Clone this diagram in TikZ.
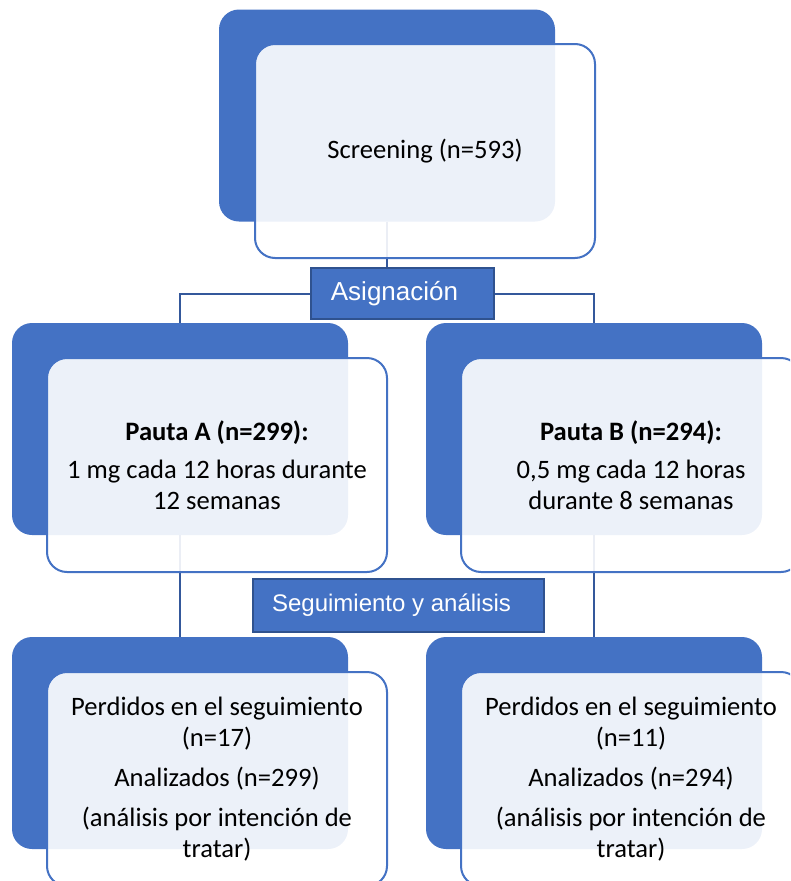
\documentclass[tikz,border=0pt]{standalone}
\usepackage{fontspec}
\setmainfont{Carlito}
\newfontfamily\tagfont{Liberation Sans}
\usepackage{tikz}
\usetikzlibrary{positioning}
\definecolor{smblue}{RGB}{68,114,196}
\definecolor{smdark}{RGB}{47,82,143}
\definecolor{smline}{RGB}{52,88,155}
\newcommand{\boxfont}{\fontsize{26.6}{31}\selectfont}

\begin{document}
\begin{tikzpicture}[x=1pt,y=-1pt,
  backbox/.style={fill=smblue,rounded corners=20pt,minimum width=336pt,minimum height=212pt,inner sep=0pt},
  frontbox/.style={draw=smblue,line width=2pt,fill=white,fill opacity=0.9,text opacity=1,rounded corners=20pt,minimum width=340pt,minimum height=214pt,inner sep=0pt,align=center,font=\boxfont},
  tagbox/.style={fill=smblue,draw=smdark,line width=2pt,inner sep=0pt},
  tagtext/.style={text=white,inner sep=0pt},
  link/.style={draw=smline,line width=2pt}]
\useasboundingbox (0,0) rectangle (790,881);
\clip (0,0) rectangle (790,881);
% Back panels
\node[backbox] (scrB) at (387,115.5) {};
\node[backbox] (pautaAB) at (180,429) {};
\node[backbox] (pautaBB) at (594,429) {};
\node[backbox] (lostAB) at (180,743) {};
\node[backbox] (lostBB) at (594,743) {};
% Connectors
\coordinate (asigC) at (402.5,293.5);
\draw[link] (scrB.south) -- (scrB.south |- asigC);
\draw[link] (asigC) -| (pautaAB.north);
\draw[link] (asigC) -| (pautaBB.north);
\draw[link] (pautaAB.south) -- (lostAB.north);
\draw[link] (pautaBB.south) -- (lostBB.north);
% Front panels
\node[frontbox] (scr) at ([shift={(38,35.5)}]scrB.center) {Screening (n=593)};
\node[frontbox] (pautaA) at ([shift={(37,36)}]pautaAB.center) {\textbf{Pauta A (n=299):}\\[7pt]1 mg cada 12 horas durante\\12 semanas};
\node[frontbox] (pautaB) at ([shift={(37,36)}]pautaBB.center) {\textbf{Pauta B (n=294):}\\[7pt]0,5 mg cada 12 horas\\durante 8 semanas};
\node[frontbox] (lostA) at ([shift={(37,36)}]lostAB.center) {Perdidos en el seguimiento\\(n=17)\\[9pt]Analizados (n=299)\\[9pt](análisis por intención de\\tratar)};
\node[frontbox] (lostB) at ([shift={(37,36)}]lostBB.center) {Perdidos en el seguimiento\\(n=11)\\[9pt]Analizados (n=294)\\[9pt](análisis por intención de\\tratar)};
% Labels
\node[tagbox,minimum width=183pt,minimum height=51pt] (asig) at (asigC) {};
\node[tagtext,font=\tagfont\fontsize{26}{30}\selectfont] at ([xshift=-8]asig.center) {Asignación};
\node[tagbox,minimum width=291pt,minimum height=53pt] (segui) at (398.5,605.5) {};
\node[tagtext,font=\tagfont\fontsize{24}{28}\selectfont] at ([xshift=-7]segui.center) {Seguimiento y análisis};
\end{tikzpicture}
\end{document}
